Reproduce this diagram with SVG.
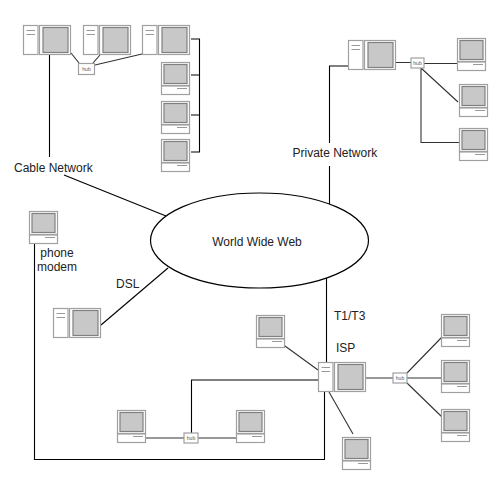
<svg xmlns="http://www.w3.org/2000/svg" xmlns:xlink="http://www.w3.org/1999/xlink" width="504" height="504" viewBox="0 0 504 504">
<style>
text{font-family:"Liberation Sans",Arial,sans-serif;font-size:12px;fill:#222}
.m{text-anchor:middle}
.hubt{font-size:5px;text-anchor:middle;fill:#555}
.body{fill:#fff;stroke:#a0a0a0;stroke-width:1.2}
.screen{fill:#c8c8c8;stroke:#808080;stroke-width:1.2}
.tick{fill:none;stroke:#999;stroke-width:1}
.c{fill:none;stroke:#000;stroke-width:1.1}
.h{fill:none;stroke:#333;stroke-width:1.1}
</style>
<defs>
<g id="desktop">
<rect class="body" x="0.5" y="0.5" width="14.5" height="29"/>
<path class="tick" d="M3.5 5.5H12M3.5 9.5H12"/>
<rect class="body" x="16.5" y="0.5" width="31" height="29"/>
<rect class="screen" x="20" y="2.5" width="25" height="25"/>
</g>
<g id="terminal">
<rect class="body" x="0.5" y="0.5" width="28" height="23"/>
<rect class="screen" x="3" y="2.5" width="23" height="19"/>
<rect class="body" x="0.5" y="24" width="28" height="8.5"/>
<path class="tick" d="M16 26.5H26"/>
</g>
</defs>
<g id="connectors">
<path class="c" d="M49.5 54V157"/>
<path class="c" d="M64 175L166 216"/>
<path class="h" d="M71 53L79 63M100 55L93 63M95 65L142 54"/>
<path class="c" d="M191 39H199.5V152H191M191 75H199.5M191 115H199.5"/>
<path class="c" d="M348 66H329.5V143M329.5 166V205"/>
<path class="h" d="M396 62.500H411M424 63.500H458M421 68L458 102M421 68V142.500H459"/>
<path class="c" d="M326.500 278V362"/>
<path class="c" d="M318 380H191.500V433"/>
<path class="h" d="M146 438H184M198 438H236"/>
<path class="c" d="M34.500 243V459.500H324.500V392"/>
<path class="c" d="M101 325L168 268"/>
<path class="h" d="M285 346L318 370M329 392L353 434"/>
<path class="h" d="M366 378H393M407 378H441M407 373L442 337M407 383L442 417"/>
</g>
<g id="web"><ellipse cx="259.500" cy="240.500" rx="109" ry="47.500" fill="#fff" stroke="#000" stroke-width="1.200"/><text class="m" x="257" y="246">World Wide Web</text></g>
<g id="cable-pc1"><use xlink:href="#desktop" x="23" y="25"/></g>
<g id="cable-pc2"><use xlink:href="#desktop" x="83" y="25"/></g>
<g id="cable-pc3"><use xlink:href="#desktop" x="142" y="25"/></g>
<g id="cable-hub"><rect class="body" x="78.500" y="63.500" width="16" height="11"/><text class="hubt" x="86.500" y="71">hub</text></g>
<g id="cable-t1"><use xlink:href="#terminal" x="161" y="62"/></g>
<g id="cable-t2"><use xlink:href="#terminal" x="161" y="101"/></g>
<g id="cable-t3"><use xlink:href="#terminal" x="161" y="139"/></g>
<g id="cable-label"><text x="14" y="172">Cable Network</text></g>
<g id="private-pc"><use xlink:href="#desktop" x="348" y="40"/></g>
<g id="private-hub"><rect class="body" x="411" y="58" width="13" height="10"/><text class="hubt" x="417.500" y="65">hub</text></g>
<g id="private-t1"><use xlink:href="#terminal" x="457" y="38"/></g>
<g id="private-t2"><use xlink:href="#terminal" x="459" y="84"/></g>
<g id="private-t3"><use xlink:href="#terminal" x="459" y="128"/></g>
<g id="private-label"><text x="292.500" y="157">Private Network</text></g>
<g id="phone"><use xlink:href="#terminal" x="29" y="211"/><text class="m" x="57" y="257">phone</text><text class="m" x="57" y="271">modem</text></g>
<g id="dsl"><use xlink:href="#desktop" x="53" y="308"/><text x="116" y="288">DSL</text></g>
<g id="isp"><use xlink:href="#desktop" x="318" y="362"/><text x="336" y="352">ISP</text><text x="334" y="320">T1/T3</text></g>
<g id="isp-t1"><use xlink:href="#terminal" x="256" y="315"/></g>
<g id="isp-t2"><use xlink:href="#terminal" x="342" y="437"/></g>
<g id="lan-t1"><use xlink:href="#terminal" x="117" y="410"/></g>
<g id="lan-t2"><use xlink:href="#terminal" x="236" y="410"/></g>
<g id="lan-hub"><rect class="body" x="184" y="433" width="14" height="10"/><text class="hubt" x="191" y="440">hub</text></g>
<g id="isp-hub"><rect class="body" x="393" y="373" width="14" height="10"/><text class="hubt" x="400" y="380">hub</text></g>
<g id="right-t1"><use xlink:href="#terminal" x="441" y="314"/></g>
<g id="right-t2"><use xlink:href="#terminal" x="441" y="360"/></g>
<g id="right-t3"><use xlink:href="#terminal" x="441" y="409"/></g>
</svg>
